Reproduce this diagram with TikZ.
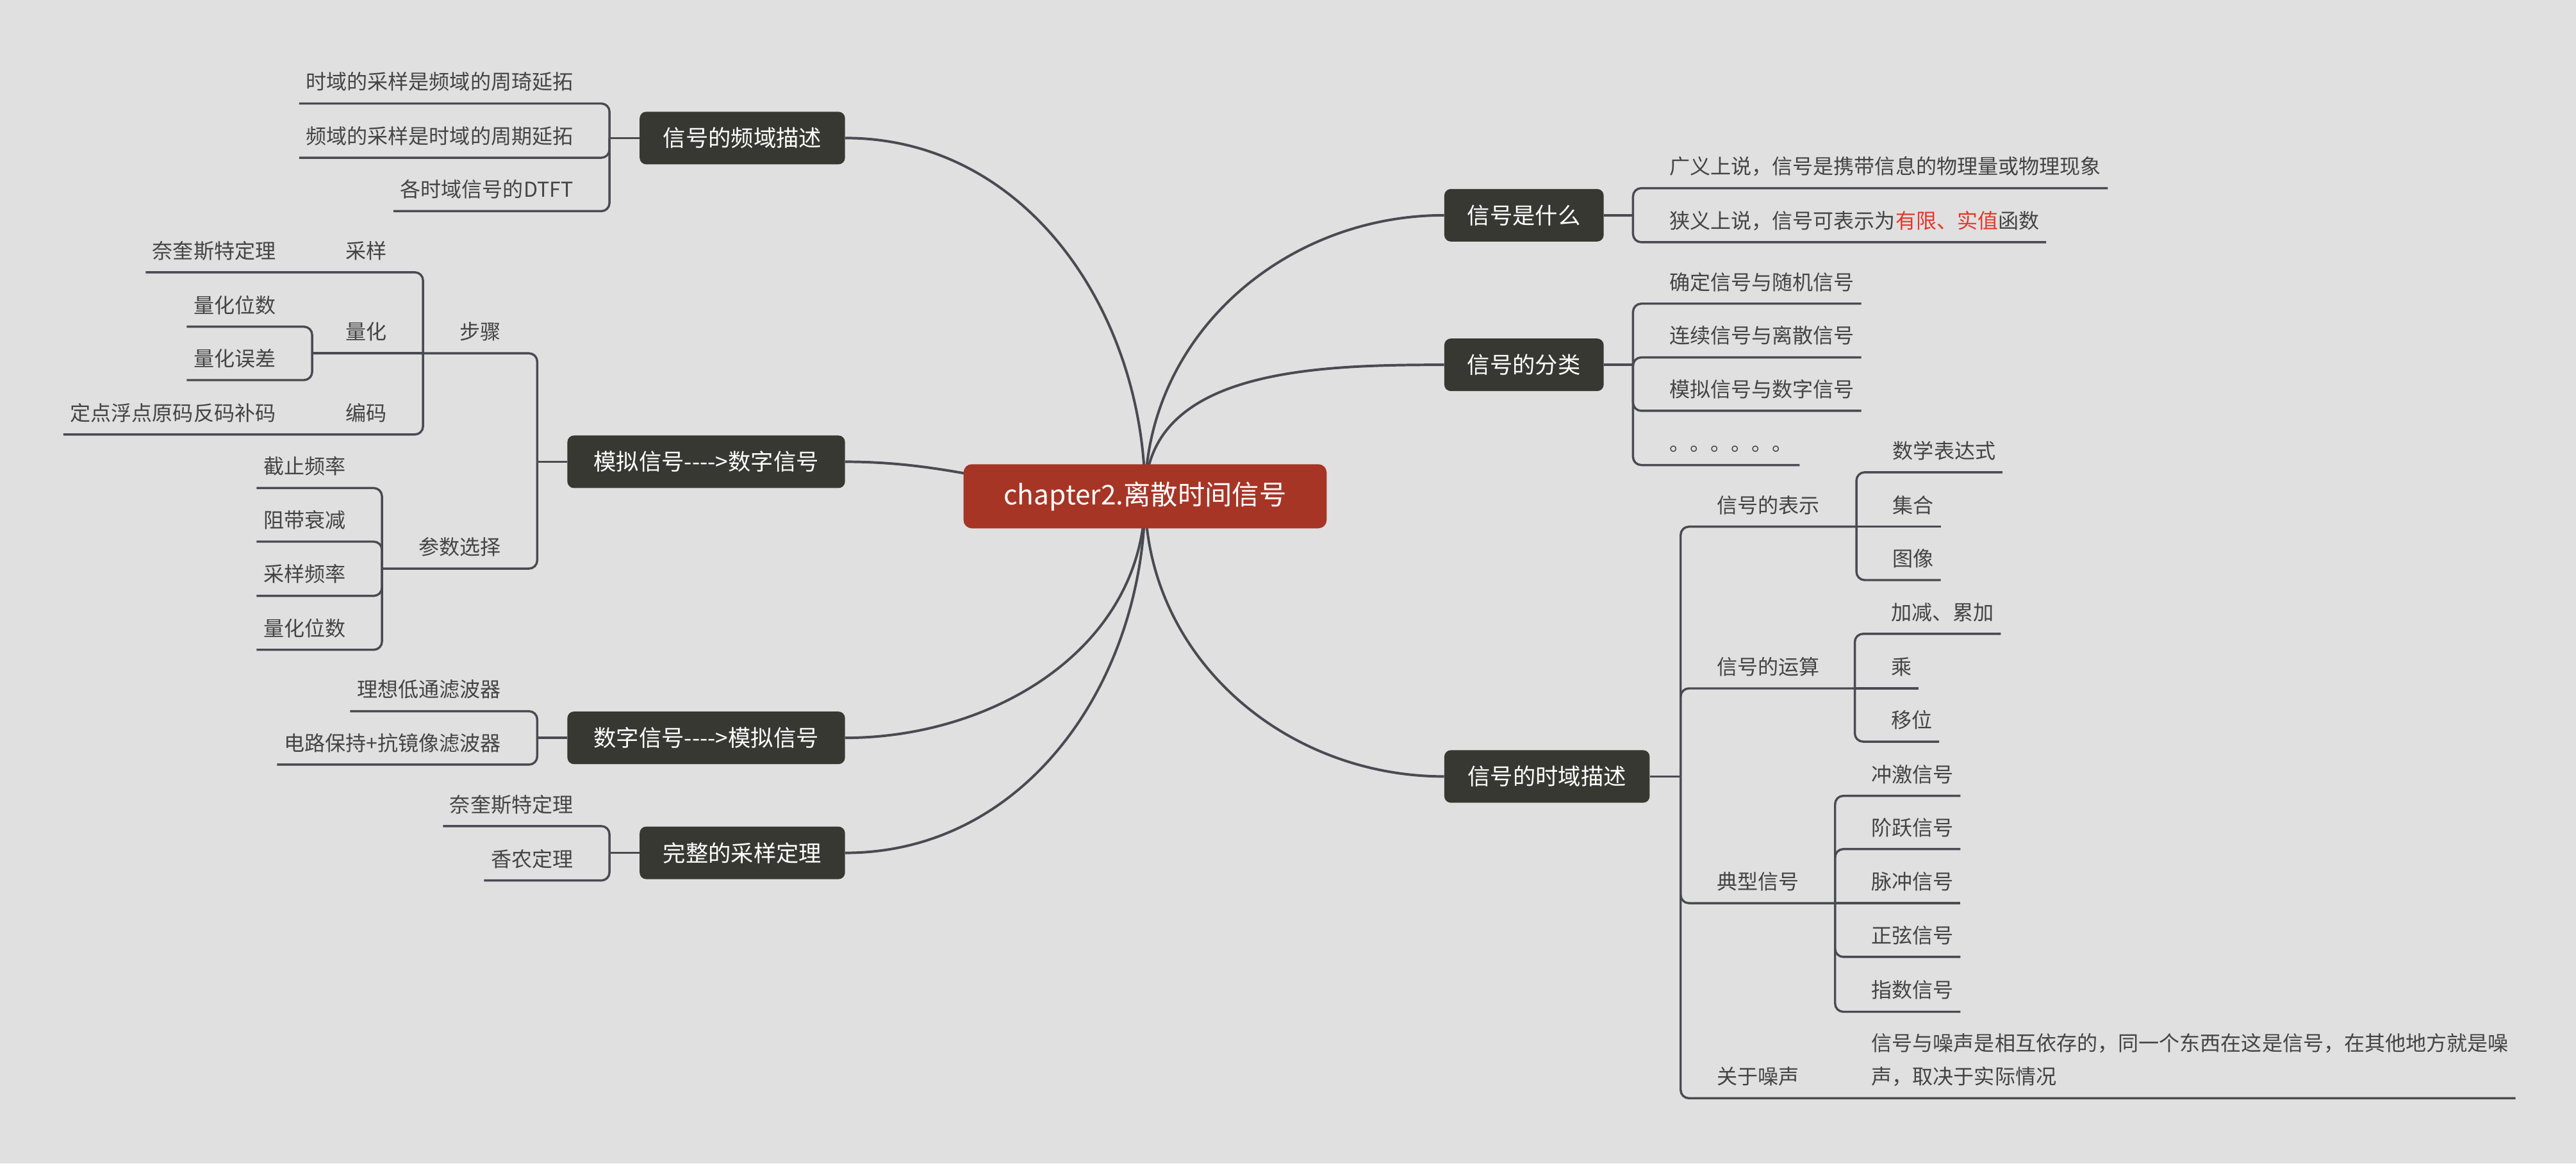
\documentclass[tikz,border=0pt]{standalone}
\usepackage{fontspec}
\setmainfont{Noto Sans CJK SC}[Ligatures=TeXOff]
\usepackage{tikz}
\usepackage{xcolor}

\definecolor{paper}{HTML}{E0E0E0}
\definecolor{boxdark}{HTML}{383833}
\definecolor{boxred}{HTML}{A63526}
\definecolor{inkgray}{HTML}{444444}
\definecolor{wire}{HTML}{4A4A52}
\definecolor{hilite}{HTML}{E2382A}

\tikzset{
    centre/.style={fill=boxred, text=white, rounded corners=2.5mm, inner sep=0pt,
        minimum width=110.5mm, minimum height=19.5mm, font=\fontsize{23.5pt}{26pt}\selectfont},
    topic/.style={fill=boxdark, text=white, rounded corners=2mm, inner sep=0pt,
        minimum height=16mm, font=\fontsize{19.6pt}{22pt}\selectfont},
    leafL/.style={anchor=south east, text=inkgray, inner xsep=2mm, inner ysep=0pt,
        text height=6mm, text depth=4.15mm, font=\fontsize{17.8pt}{20pt}\selectfont},
    leafR/.style={leafL, anchor=south west},
    branch/.style={draw=wire, line width=2.2pt},
    link/.style={draw=wire, line width=1.9pt, rounded corners=2.5mm},
}

\begin{document}
\begin{tikzpicture}[x=0.5mm, y=0.5mm]

    % Canvas
    \fill[paper] (0,0) rectangle (1568,-708);
    \useasboundingbox (0,0) rectangle (1568,-708);

    % Main topics
    \node[topic, minimum width=62.5mm, anchor=east] (freq) at (514.5,-84) {信号的频域描述};
    \node[topic, minimum width=84.5mm, anchor=east] (ad) at (514.5,-281) {模拟信号---->数字信号};
    \node[topic, minimum width=84.5mm, anchor=east] (da) at (514.5,-449) {数字信号---->模拟信号};
    \node[topic, minimum width=62.5mm, anchor=east] (samp) at (514.5,-519) {完整的采样定理};
    \node[topic, minimum width=48.5mm, anchor=west] (what) at (879,-131) {信号是什么};
    \node[topic, minimum width=48.5mm, anchor=west] (cls) at (879,-222) {信号的分类};
    \node[topic, minimum width=62.5mm, anchor=west] (time) at (879,-472.5) {信号的时域描述};

    % Branches into the centre
    \coordinate (hub) at (697,-302);
    \draw[branch] (freq.east) to[out=0, in=90] (hub);
    \draw[branch] (ad.east) to[out=0, in=180] (hub);
    \draw[branch] (da.east) to[out=0, in=-90] (hub);
    \draw[branch] (samp.east) to[out=0, in=-90] (hub);
    \draw[branch] (hub) to[out=90, in=180] (what.west);
    \draw[branch] (hub) to[out=90, in=180] (cls.west);
    \draw[branch] (hub) to[out=-90, in=180] (time.west);

    % Centre
    \node[centre] (ch2) at (697,-302) {chapter2.离散时间信号};

    % Frequency domain
    \coordinate (jfreq) at (371,-84);
    \node[leafL] (f1) at (353,-63) {时域的采样是频域的周琦延拓};
    \node[leafL] (f2) at (353,-96) {频域的采样是时域的周期延拓};
    \node[leafL] (f3) at (353,-128.5) {各时域信号的DTFT};
    \draw[link] (freq) -- (jfreq);
    \draw[link] (jfreq) |- (f1.south east) -- (f1.south west);
    \draw[link] (jfreq) |- (f2.south east) -- (f2.south west);
    \draw[link] (jfreq) |- (f3.south east) -- (f3.south west);

    % Analog to digital
    \coordinate (jad) at (327,-281);
    \draw[link] (ad) -- (jad);
    \node[leafL] (steps) at (309,-215) {步骤};
    \coordinate (jsteps) at (257.5,-215);
    \draw[link] (jad) |- (steps.south east) -- (jsteps);
    \node[leafL] (sa) at (239.5,-165.7) {采样};
    \node[leafL] (ny1) at (172,-165.7) {奈奎斯特定理};
    \draw[link] (jsteps) |- (sa.south east) -- (ny1.south west);
    \node[leafL] (qu) at (239.5,-215) {量化};
    \coordinate (jqu) at (190,-215);
    \draw[link] (jsteps) -- (qu.south east) -- (jqu);
    \node[leafL] (qb) at (172,-198.8) {量化位数};
    \node[leafL] (qe) at (172,-231.3) {量化误差};
    \draw[link] (jqu) |- (qb.south east) -- (qb.south west);
    \draw[link] (jqu) |- (qe.south east) -- (qe.south west);
    \node[leafL] (en) at (239.5,-264.4) {编码};
    \node[leafL] (fx) at (172,-264.4) {定点浮点原码反码补码};
    \draw[link] (jsteps) |- (en.south east) -- (fx.south west);

    \node[leafL] (par) at (309,-346) {参数选择};
    \coordinate (jpar) at (232.5,-346);
    \draw[link] (jad) |- (par.south east) -- (jpar);
    \node[leafL] (p1) at (214.5,-297) {截止频率};
    \node[leafL] (p2) at (214.5,-329.6) {阻带衰减};
    \node[leafL] (p3) at (214.5,-362.6) {采样频率};
    \node[leafL] (p4) at (214.5,-395.4) {量化位数};
    \draw[link] (jpar) |- (p1.south east) -- (p1.south west);
    \draw[link] (jpar) |- (p2.south east) -- (p2.south west);
    \draw[link] (jpar) |- (p3.south east) -- (p3.south west);
    \draw[link] (jpar) |- (p4.south east) -- (p4.south west);

    % Digital to analog
    \coordinate (jda) at (327,-449);
    \draw[link] (da) -- (jda);
    \node[leafL] (d1) at (309,-432.8) {理想低通滤波器};
    \node[leafL] (d2) at (309,-465.3) {电路保持+抗镜像滤波器};
    \draw[link] (jda) |- (d1.south east) -- (d1.south west);
    \draw[link] (jda) |- (d2.south east) -- (d2.south west);

    % Sampling theorem
    \coordinate (jsamp) at (371,-519);
    \draw[link] (samp) -- (jsamp);
    \node[leafL] (s1) at (353,-502.7) {奈奎斯特定理};
    \node[leafL] (s2) at (353,-535.8) {香农定理};
    \draw[link] (jsamp) |- (s1.south east) -- (s1.south west);
    \draw[link] (jsamp) |- (s2.south east) -- (s2.south west);

    % What is a signal
    \coordinate (jwhat) at (994,-131);
    \draw[link] (what) -- (jwhat);
    \node[leafR] (w1) at (1012,-114.5) {广义上说，信号是携带信息的物理量或物理现象};
    \node[leafR] (w2) at (1012,-147.4) {狭义上说，信号可表示为{\color{hilite}有限、实值}函数};
    \draw[link] (jwhat) |- (w1.south west) -- (w1.south east);
    \draw[link] (jwhat) |- (w2.south west) -- (w2.south east);

    % Classification
    \coordinate (jcls) at (994,-222);
    \draw[link] (cls) -- (jcls);
    \node[leafR] (c1) at (1012,-184.8) {确定信号与随机信号};
    \node[leafR] (c2) at (1012,-217.5) {连续信号与离散信号};
    \node[leafR] (c3) at (1012,-250) {模拟信号与数字信号};
    \node[leafR] (c4) at (1012,-283) {。。。。。。};
    \draw[link] (jcls) |- (c1.south west) -- (c1.south east);
    \draw[link] (jcls) |- (c2.south west) -- (c2.south east);
    \draw[link] (jcls) |- (c3.south west) -- (c3.south east);
    \draw[link] (jcls) |- (c4.south west) -- (c4.south east);

    % Time domain
    \coordinate (jtime) at (1023,-472.5);
    \draw[link] (time) -- (jtime);

    \node[leafR] (rep) at (1041,-320.5) {信号的表示};
    \coordinate (jrep) at (1130,-320.5);
    \draw[link] (jtime) |- (rep.south west) -- (jrep);
    \node[leafR] (r1) at (1148,-287.4) {数学表达式};
    \node[leafR] (r2) at (1148,-320.5) {集合};
    \node[leafR] (r3) at (1148,-353) {图像};
    \draw[link] (jrep) |- (r1.south west) -- (r1.south east);
    \draw[link] (jrep) -- (r2.south west) -- (r2.south east);
    \draw[link] (jrep) |- (r3.south west) -- (r3.south east);

    \node[leafR] (op) at (1041,-418.9) {信号的运算};
    \coordinate (jop) at (1129,-418.9);
    \draw[link] (jtime) |- (op.south west) -- (jop);
    \node[leafR] (o1) at (1147,-385.7) {加减、累加};
    \node[leafR] (o2) at (1147,-418.9) {乘};
    \node[leafR] (o3) at (1147,-451.3) {移位};
    \draw[link] (jop) |- (o1.south west) -- (o1.south east);
    \draw[link] (jop) -- (o2.south west) -- (o2.south east);
    \draw[link] (jop) |- (o3.south west) -- (o3.south east);

    \node[leafR] (typ) at (1041,-549.6) {典型信号};
    \coordinate (jtyp) at (1117,-549.6);
    \draw[link] (jtime) |- (typ.south west) -- (jtyp);
    \node[leafR] (t1) at (1135,-484.3) {冲激信号};
    \node[leafR] (t2) at (1135,-516.7) {阶跃信号};
    \node[leafR] (t3) at (1135,-549.6) {脉冲信号};
    \node[leafR] (t4) at (1135,-582.3) {正弦信号};
    \node[leafR] (t5) at (1135,-615.7) {指数信号};
    \draw[link] (jtyp) |- (t1.south west) -- (t1.south east);
    \draw[link] (jtyp) |- (t2.south west) -- (t2.south east);
    \draw[link] (jtyp) -- (t3.south west) -- (t3.south east);
    \draw[link] (jtyp) |- (t4.south west) -- (t4.south east);
    \draw[link] (jtyp) |- (t5.south west) -- (t5.south east);

    \node[leafR] (noi) at (1041,-668.3) {关于噪声};
    \node[leafR, align=left, text height={}, text depth={}, inner ysep=3.6mm,
        font=\fontsize{17.8pt}{28.4pt}\selectfont] (n1) at (1135,-668.3)
        {信号与噪声是相互依存的，同一个东西在这是信号，在其他地方就是噪\\声，取决于实际情况};
    \draw[link] (jtime) |- (noi.south west) -- (n1.south east);

\end{tikzpicture}
\end{document}
